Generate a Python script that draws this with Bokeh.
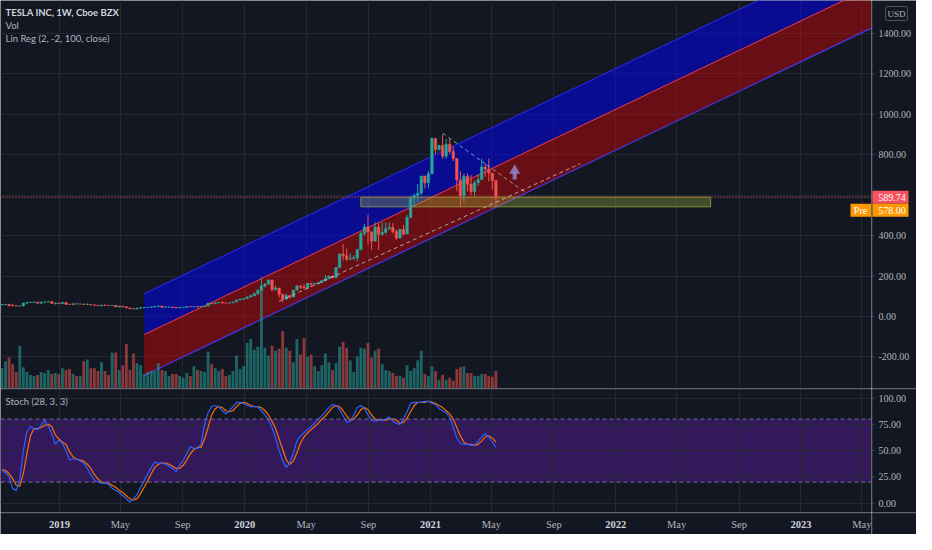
import numpy as np
import pandas as pd
from bokeh.plotting import figure
from bokeh.layouts import column, row
from bokeh.models import (Range1d, FixedTicker, Grid, Label, Span, ColumnDataSource, BoxAnnotation)
from bokeh.core.properties import value
from bokeh.embed import file_html
from bokeh.resources import INLINE

# ---------------- data ----------------
first_week = "2018-09-10"
first_open = 57.0

close_2018 = [59.0, 59.9, 52.9, 52.4, 51.8, 52.0, 66.2, 69.3, 70.1, 70.9, 65.2, 70.1, 71.6, 73.1, 64.0, 66.8, 63.5]
high_2018 = [60.0, 61.0, 62.0, 62.0, 53.6, 52.6, 68.0, 69.6, 72.0, 71.4, 71.0, 73.6, 73.0, 74.8, 77.0, 66.9, 68.0]
low_2018 = [56.4, 55.7, 52.0, 51.8, 50.2, 49.2, 50.8, 60.2, 67.3, 66.4, 64.0, 64.6, 68.0, 70.5, 63.8, 58.5, 59.8]

close_2019 = [69.5, 60.5, 59.4, 62.4, 61.2, 61.6, 58.9, 59.0, 56.8, 55.1, 52.9, 56.0, 55.0, 53.5, 54.7, 47.0,
              51.0, 47.9, 42.2, 38.1, 37.0, 40.9, 43.0, 44.4, 44.7, 46.6, 49.1, 51.6, 45.6, 46.9, 47.0, 44.0,
              42.3, 45.1, 45.5, 49.4, 48.1, 48.4, 46.3, 49.6, 51.4, 65.6, 62.7, 67.4, 70.4, 66.6, 66.0, 67.2,
              71.7, 81.1, 86.1, 88.6]
high_2019 = [70.0, 70.2, 62.0, 63.5, 63.5, 62.6, 61.9, 64.4, 59.0, 58.5, 56.0, 56.5, 58.0, 55.6, 55.0, 54.8,
             52.6, 51.5, 48.0, 42.4, 39.5, 42.0, 45.0, 45.5, 45.0, 48.4, 49.4, 52.8, 53.0, 49.2, 48.0, 47.0,
             45.5, 45.6, 46.3, 50.5, 49.3, 49.2, 49.8, 50.4, 52.0, 67.0, 66.0, 68.0, 71.0, 72.5, 67.5, 67.8,
             72.6, 82.6, 87.0, 90.8]
low_2019 = [63.3, 58.4, 57.8, 56.2, 59.9, 60.0, 58.0, 58.0, 55.2, 54.4, 52.0, 51.7, 53.5, 53.0, 52.6, 46.5,
            46.4, 46.2, 41.4, 36.4, 36.6, 35.4, 40.4, 42.5, 42.3, 44.2, 45.3, 48.5, 45.0, 45.5, 45.2, 42.8,
            41.6, 41.5, 43.6, 45.6, 47.0, 44.6, 45.4, 45.7, 48.6, 50.8, 61.0, 62.0, 67.0, 64.0, 65.0, 65.2,
            67.0, 71.5, 80.6, 81.8]

close_2020 = [95.6, 102.1, 113.0, 130.1, 149.6, 160.0, 180.2, 133.6, 140.7, 109.3, 85.5, 102.9, 96.0, 130.2,
              150.8, 145.0, 140.3, 163.9, 159.8, 163.4, 167.0, 177.1, 187.1, 200.2, 191.9, 241.7, 308.9, 300.2,
              283.4, 286.2, 290.5, 330.1, 410.0, 442.7, 418.3, 372.7, 442.2, 407.3, 415.1, 434.0, 439.7, 420.6,
              388.0, 430.0, 408.1, 489.6, 585.8, 599.0, 610.0, 695.0, 661.8, 705.7]
high_2020 = [99.7, 107.0, 118.0, 130.6, 193.8, 165.0, 183.6, 180.5, 154.4, 141.0, 109.5, 113.0, 106.0, 131.0,
             155.0, 156.0, 160.0, 165.0, 164.0, 165.6, 168.7, 180.0, 205.0, 201.3, 202.0, 245.6, 309.8, 359.0,
             336.8, 312.0, 303.0, 335.0, 419.0, 457.4, 502.5, 420.0, 465.7, 460.0, 465.0, 465.0, 465.9, 461.9,
             430.0, 436.0, 452.5, 502.5, 598.8, 607.8, 654.3, 695.0, 695.5, 718.7]
low_2020 = [88.0, 95.6, 102.0, 104.9, 128.8, 144.0, 158.0, 122.3, 128.0, 94.0, 70.1, 84.4, 87.3, 95.6,
            129.6, 135.6, 139.0, 135.0, 146.0, 157.0, 158.0, 167.0, 176.0, 184.0, 190.0, 191.0, 241.0, 277.0,
            275.0, 280.0, 282.0, 273.0, 330.0, 400.0, 356.0, 329.9, 372.0, 329.9, 400.0, 410.0, 431.0, 410.0,
            379.1, 385.5, 401.0, 407.5, 489.0, 541.0, 566.3, 601.0, 633.4, 636.0]

close_2021 = [880.0, 826.2, 846.6, 793.5, 852.2, 816.1, 781.3, 675.5, 598.0, 693.7, 654.9, 618.7, 661.8, 677.0,
              739.8, 729.4, 709.4, 672.4, 589.74]
high_2021 = [884.5, 882.0, 848.0, 900.4, 877.8, 880.5, 842.0, 781.5, 719.0, 707.0, 708.0, 699.6, 672.0, 703.0,
             780.8, 753.7, 780.8, 709.0, 672.4]
low_2021 = [705.0, 803.6, 820.0, 780.1, 780.0, 804.6, 769.0, 619.0, 539.5, 563.0, 619.0, 600.0, 595.0, 645.5,
            677.0, 691.0, 667.8, 627.0, 547.0]

# weekly volume, millions of shares
volume = [168, 224, 256, 200, 136, 352, 176, 136, 112, 104, 112, 136, 128, 152, 120, 128, 120, 168, 152, 160,
          120, 104, 104, 224, 240, 168, 168, 144, 216, 144, 112, 296, 296, 152, 192, 368, 152, 288, 208, 192,
          120, 136, 144, 144, 208, 152, 144, 104, 120, 120, 104, 88, 128, 104, 184, 152, 144, 136, 304, 200,
          168, 144, 160, 104, 112, 144, 272, 160, 184, 376, 408, 320, 344, 848,
          336, 272, 352, 312, 328, 472, 336, 312, 216, 408, 280, 416, 264, 280, 184, 144, 192, 288, 216, 152,
          208, 344, 384, 336, 232, 136, 264, 336, 328, 376, 256, 312, 328, 200, 152, 144, 128, 104, 104, 88,
          192, 144, 168, 232, 312, 120, 104, 184, 144, 72, 112, 72, 88, 64, 160, 176, 184, 128, 128, 104,
          104, 120, 120, 104, 96, 144]

stoch_k = [31, 29, 25, 14, 12, 22, 50, 68, 73, 71, 70, 74, 79, 73, 66, 56, 60, 57, 50, 41,
           42, 42, 40, 38, 33, 27, 22, 20, 19, 19, 18, 14, 12, 10, 7, 4, 1, 4, 8, 15,
           21, 28, 34, 39, 38, 38, 37, 35, 33, 30, 36, 41, 47, 54, 52, 52, 56, 75, 86, 92,
           93, 92, 88, 85, 88, 92, 96, 96, 95, 93, 92, 92, 92, 88, 84, 79, 72, 62, 50, 40,
           34, 38, 48, 59, 64, 67, 70, 73, 76, 80, 83, 87, 91, 94, 93, 89, 83, 77, 78, 84,
           91, 93, 90, 84, 79, 78, 79, 79, 80, 82, 78, 76, 75, 80, 87, 95, 96, 96, 96, 97,
           97, 95, 94, 90, 88, 86, 82, 72, 62, 57, 56, 56, 55, 55, 59, 63, 66, 63, 58, 53]
stoch_d = [32, 31, 28, 23, 17, 16, 28, 47, 64, 71, 71, 72, 74, 75, 73, 65, 61, 58, 56, 49,
           44, 42, 41, 40, 37, 33, 27, 23, 20, 19, 19, 17, 15, 12, 10, 7, 4, 3, 4, 9,
           15, 21, 28, 34, 37, 38, 38, 37, 35, 33, 33, 36, 41, 47, 51, 53, 53, 61, 72, 84,
           90, 92, 91, 88, 87, 88, 92, 95, 96, 95, 93, 92, 92, 91, 88, 84, 78, 71, 61, 51,
           41, 37, 40, 48, 57, 63, 67, 70, 73, 76, 80, 83, 87, 91, 93, 92, 88, 83, 79, 80,
           84, 89, 91, 89, 84, 80, 79, 79, 79, 80, 80, 79, 76, 77, 81, 87, 93, 96, 96, 96,
           97, 96, 95, 93, 91, 88, 85, 80, 72, 64, 58, 56, 56, 55, 56, 59, 63, 64, 62, 58]

premarket_price = 578.00

# linear regression channel (Lin Reg 2, -2, 100)
lr_start_date = "2019-06-17"
lr_end_date = "2023-07-01"
lr_start_mid = -90.0
lr_slope_per_day = 1.20
lr_dev = 202.0

# drawings
support_dates = ["2020-03-09", "2021-10-23"]
support_prices = [75.0, 756.0]
resist_dates_a = ["2021-01-25", "2021-04-22"]
resist_prices_a = [907.0, 750.0]
resist_dates_b = ["2021-04-22", "2021-07-08"]
resist_prices_b = [750.0, 612.0]
zone_dates = ["2020-08-17", "2022-07-07"]
zone_prices = [542.5, 590.5]
arrow_date = ["2021-06-16"]
arrow_head = [722.0]
arrow_stem = [688.0]

tick_dates = ["2019-01-01", "2019-05-01", "2019-09-01", "2020-01-01", "2020-05-01", "2020-09-01",
              "2021-01-01", "2021-05-01", "2021-09-01", "2022-01-01", "2022-05-01", "2022-09-01",
              "2023-01-01", "2023-05-01"]
tick_labels = ["2019", "May", "Sep", "2020", "May", "Sep", "2021", "May", "Sep", "2022", "May", "Sep",
               "2023", "May"]
price_grid = [-200, 0, 200, 400, 600, 800, 1000, 1200, 1400]
price_labels = [-200, 0, 200, 400, 800, 1000, 1200, 1400]
stoch_ticks = [0, 25, 50, 75, 100]

# ---------------- helpers ----------------
def ms(d):
    return float(pd.Timestamp(d).value // 10**6)

BG = "#131722"
GRID = "#242832"
TXT = "#b2b5be"
AXL = "#434651"
UP = "#26a69a"
DN = "#ef5350"
FONT = "Lato"
AFONT = "Liberation Sans Narrow"

close = np.array(close_2018 + close_2019 + close_2020 + close_2021)
high = np.array(high_2018 + high_2019 + high_2020 + high_2021)
low = np.array(low_2018 + low_2019 + low_2020 + low_2021)
opens = np.concatenate([[first_open], close[:-1]])
dates = pd.date_range(first_week, periods=len(close), freq="W-MON")
xs = (dates.asi8 // 10**6).astype(float)
inc = close >= opens
col = np.where(inc, UP, DN)

src = ColumnDataSource(dict(x=xs, o=opens, h=high, l=low, c=close,
                            top=np.maximum(opens, close), bottom=np.minimum(opens, close),
                            color=col, vol=np.array(volume, dtype=float),
                            k=np.array(stoch_k, dtype=float), d=np.array(stoch_d, dtype=float)))

DAY = 86400000.0
BODY_W = 4.8 * DAY
VOL_W = 5.6 * DAY
FW = 871
RB = 45
H1, H2, H3 = 388, 124, 22

xr = Range1d(ms("2018-09-07"), ms("2023-05-20"))
yr_main = Range1d(-356.7, 1563.6)
yr_stoch = Range1d(-9.0, 109.2)

# the pre-market tag is pushed 13 px below the last-price tag so the two do not overlap
last_price = float(close[-1])
units_per_px = (yr_main.end - yr_main.start) / H1
pre_tag_y = last_price - 13 * units_per_px


def base_fig(w, h, xrange, yr):
    f = figure(frame_width=w, frame_height=h, x_range=xrange, y_range=yr,
               x_axis_location=None, y_axis_location=None,
               output_backend="svg", toolbar_location=None, background_fill_color=BG,
               border_fill_color=BG, outline_line_color=None, min_border_left=0,
               min_border_top=0, min_border_bottom=0, min_border_right=0)
    f.grid.visible = False
    return f


def axis_fig(h, yr, ticks, labels):
    a = base_fig(RB, h, Range1d(0, RB), yr)
    a.add_layout(Span(location=0, dimension="height", line_color=AXL, line_width=2))
    if ticks:
        a.segment(x0=[0] * len(ticks), y0=ticks, x1=[3] * len(ticks), y1=ticks, line_color=AXL,
                  line_width=1)
        a.text(x=[7] * len(ticks), y=ticks, text=labels, text_align="left", text_baseline="middle",
               text_font=value(AFONT), text_font_size="10px", text_color=TXT)
    return a


tick_ms = [ms(d) for d in tick_dates]

# ---------------- main pane ----------------
p = base_fig(FW, H1, xr, yr_main)
p.add_layout(Grid(dimension=0, ticker=FixedTicker(ticks=tick_ms), grid_line_color=GRID))
p.add_layout(Grid(dimension=1, ticker=FixedTicker(ticks=price_grid), grid_line_color=GRID))
p.extra_y_ranges = {"vol": Range1d(0, 3200)}

# regression channel
lr_x = [ms(lr_start_date), ms(lr_end_date)]
lr_days = (lr_x[1] - lr_x[0]) / DAY
mid = np.array([lr_start_mid, lr_start_mid + lr_slope_per_day * lr_days])
upper = mid + lr_dev
lower = mid - lr_dev
p.patch(lr_x + lr_x[::-1], list(upper) + list(mid[::-1]), fill_color="#0000ff", fill_alpha=0.5,
        line_color=None)
p.patch(lr_x + lr_x[::-1], list(mid) + list(lower[::-1]), fill_color="#ff0000", fill_alpha=0.36,
        line_color=None)
p.line(lr_x, upper, line_color="#2a2aff", line_width=1)
p.line(lr_x, mid, line_color="#f03a4f", line_width=1)
p.line(lr_x, lower, line_color="#4a34e8", line_width=1.2)

# volume
p.vbar(x="x", width=VOL_W, top="vol", bottom=0, y_range_name="vol", source=src,
       fill_color="color", fill_alpha=0.55, line_color=None)

# support/resistance zone
p.quad(left=[ms(zone_dates[0])], right=[ms(zone_dates[1])], bottom=[zone_prices[0]], top=[zone_prices[1]],
       fill_color="#a5c23a", fill_alpha=0.32, line_color="#9aa83a", line_alpha=0.8, line_width=1)

# candles
p.segment(x0="x", y0="l", x1="x", y1="h", line_color="color", line_width=1, source=src)
p.vbar(x="x", width=BODY_W, top="top", bottom="bottom", fill_color="color", line_color="color",
       line_width=0.6, source=src)

# last price line
p.add_layout(Span(location=last_price, dimension="width", line_color="#c8634a", line_alpha=0.9,
                  line_width=1.3, line_dash="1 2"))

# trend lines
p.line([ms(d) for d in support_dates], support_prices, line_color="#d0d0d0", line_alpha=0.75,
       line_width=1, line_dash="4 3")
p.line([ms(d) for d in resist_dates_a], resist_prices_a, line_color="#5fd3e6", line_alpha=0.8,
       line_width=1, line_dash="4 3")
p.line([ms(d) for d in resist_dates_b], resist_prices_b, line_color="#c8c8c8", line_alpha=0.7,
       line_width=1, line_dash="4 3")

# arrow
ax_ms = [ms(d) for d in arrow_date]
p.rect(x=ax_ms, y=[(arrow_head[0] + arrow_stem[0]) / 2 - 8], width=4, height=8, width_units="screen",
       height_units="screen", fill_color="#8e82c4", line_color=None, fill_alpha=0.85)
p.scatter(x=ax_ms, y=arrow_head, marker="triangle", size=11, fill_color="#8e82c4", line_color=None,
          fill_alpha=0.85)

# "Pre" part of the pre-market tag (inside the pane)
xe = xr.end
p.rect(x=[xe], y=[pre_tag_y], width=42, height=13, width_units="screen", height_units="screen",
       fill_color="#ff9800", line_color=None)
p.text(x=[xe], y=[pre_tag_y], text=["Pre"], x_offset=-11, text_align="center", text_baseline="middle",
       text_font=value(AFONT), text_font_size="10px", text_color="#ffffff")

# header
x0 = xr.start
ytop = yr_main.end
p.add_layout(Label(x=x0, y=ytop, x_offset=5, y_offset=-6, text="TESLA INC, 1W, Cboe BZX",
                   text_font=FONT, text_font_size="9.5px", text_font_style="bold", text_color="#d1d4dc",
                   text_baseline="top"))
p.add_layout(Label(x=x0, y=ytop, x_offset=5, y_offset=-19, text="Vol", text_font=FONT,
                   text_font_size="9.5px", text_color=TXT, text_baseline="top"))
p.add_layout(Label(x=x0, y=ytop, x_offset=5, y_offset=-32, text="Lin Reg (2, -2, 100, close)",
                   text_font=FONT, text_font_size="9.5px", text_color=TXT, text_baseline="top"))

# price axis of the main pane
pa = axis_fig(H1, yr_main, price_labels, [f"{v:.2f}" for v in price_labels])
pa.add_layout(Label(x=14, y=ytop, y_offset=-6, text="USD", text_font=AFONT, text_font_size="9px",
                    text_color=TXT, text_baseline="top", border_line_color="#50535e",
                    background_fill_color=BG, padding=2, border_radius=2))
pa.rect(x=[18.5], y=[last_price], width=37, height=13, height_units="screen",
        fill_color="#f7525f", line_color=None)
pa.text(x=[20.5], y=[last_price], text=[f"{last_price:.2f}"], text_align="center",
        text_baseline="middle", text_font=value(AFONT), text_font_size="10px", text_color="#ffffff")
pa.rect(x=[18.5], y=[pre_tag_y], width=37, height=13, height_units="screen",
        fill_color="#ff9800", line_color=None)
pa.text(x=[20.5], y=[pre_tag_y], text=[f"{premarket_price:.2f}"], text_align="center",
        text_baseline="middle", text_font=value(AFONT), text_font_size="10px", text_color="#ffffff")

# ---------------- stochastic pane ----------------
p2 = base_fig(FW, H2, xr, yr_stoch)
p2.add_layout(BoxAnnotation(bottom=20, top=80, fill_color="#33195c", fill_alpha=1.0, line_color=None,
                            level="image"))
p2.add_layout(Grid(dimension=0, ticker=FixedTicker(ticks=tick_ms), grid_line_color=GRID))
p2.add_layout(Grid(dimension=1, ticker=FixedTicker(ticks=stoch_ticks), grid_line_color=GRID))
p2.add_layout(Span(location=80, dimension="width", line_color="#7d6a99", line_dash="4 3", line_width=1))
p2.add_layout(Span(location=20, dimension="width", line_color="#7d6a99", line_dash="4 3", line_width=1))
p2.line("x", "d", source=src, line_color="#ff6d00", line_width=1.2)
p2.line("x", "k", source=src, line_color="#2962ff", line_width=1.2)
p2.add_layout(Span(location=yr_stoch.end, dimension="width", line_color="#3a3e49", line_width=2))
p2.add_layout(Label(x=x0, y=yr_stoch.end, x_offset=5, y_offset=-7, text="Stoch (28, 3, 3)",
                    text_font=FONT, text_font_size="9.5px", text_color=TXT, text_baseline="top"))

p2a = axis_fig(H2, yr_stoch, stoch_ticks, [f"{v:.2f}" for v in stoch_ticks])
p2a.add_layout(Span(location=yr_stoch.end, dimension="width", line_color="#3a3e49", line_width=2))

# ---------------- time axis pane ----------------
p3 = base_fig(FW, H3, xr, Range1d(0, 1))
year_idx = [i for i, t in enumerate(tick_labels) if t.isdigit()]
mon_idx = [i for i, t in enumerate(tick_labels) if not t.isdigit()]
p3.text(x=[tick_ms[i] for i in year_idx], y=[0.45] * len(year_idx), text=[tick_labels[i] for i in year_idx],
        text_align="center", text_baseline="middle", text_font=value(AFONT), text_font_size="10.5px",
        text_font_style="bold", text_color="#d1d4dc")
p3.text(x=[tick_ms[i] for i in mon_idx], y=[0.45] * len(mon_idx), text=[tick_labels[i] for i in mon_idx],
        text_align="center", text_baseline="middle", text_font=value(AFONT), text_font_size="10.5px",
        text_color=TXT)
p3.add_layout(Span(location=1, dimension="width", line_color="#3a3e49", line_width=2))

p3a = axis_fig(H3, Range1d(0, 1), [], [])
p3a.add_layout(Span(location=1, dimension="width", line_color="#3a3e49", line_width=2))

layout = column(row(p, pa, spacing=0), row(p2, p2a, spacing=0), row(p3, p3a, spacing=0), spacing=0)
open("out.html", "w").write(file_html(layout, INLINE))
